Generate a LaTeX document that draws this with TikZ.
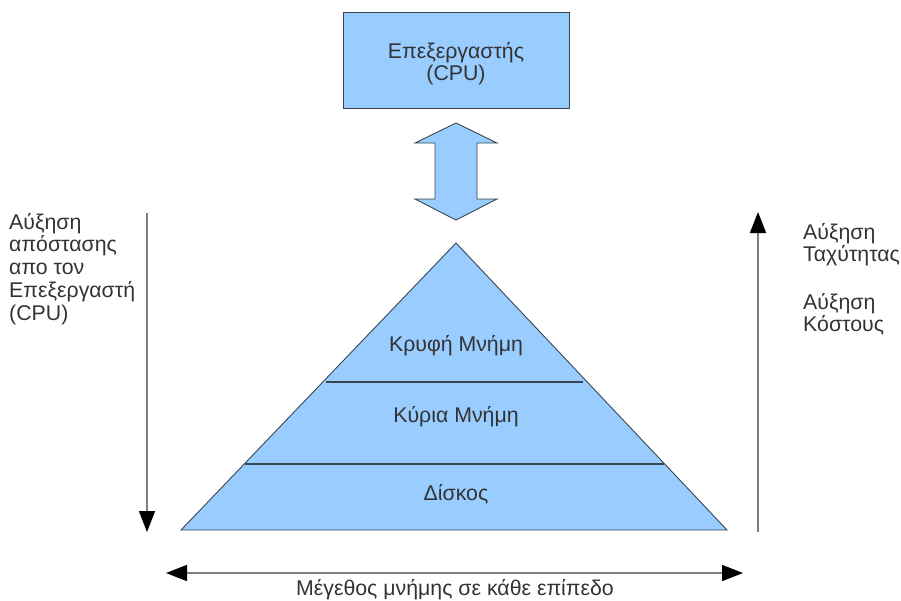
\documentclass[tikz,border=0pt]{standalone}
\usepackage{fontspec}
\setmainfont{Liberation Sans}
\usetikzlibrary{arrows.meta,calc}
\definecolor{boxfill}{HTML}{99CCFF}
\definecolor{edge}{HTML}{3A4650}
\definecolor{txt}{HTML}{333333}
\definecolor{axis}{HTML}{7F7F7F}
\begin{document}
\begin{tikzpicture}[x=1pt,y=-1pt,
  every node/.style={text=txt,font=\fontsize{21.3}{22.75}\selectfont,inner sep=0pt},
  shapefill/.style={fill=boxfill,draw=edge,line width=0.9pt},
  axisarrow/.style={draw=axis,line width=1.6pt,-{Triangle[length=21pt,width=16pt,fill=black,color=black]}},
  axisboth/.style={draw=axis,line width=1.6pt,{Triangle[length=21pt,width=16pt,fill=black,color=black]}-{Triangle[length=21pt,width=16pt,fill=black,color=black]}},
  layerline/.style={draw=edge,line width=1.4pt}]
\useasboundingbox (0,0) rectangle (901,600);

% processor box (multi-line nodes sit on the baseline of their last line)
\draw[shapefill] (343,12) rectangle (569,108);
\node[anchor=base,align=center,font=\fontsize{21.3}{22}\selectfont] (cpu) at (456,80)
  {Επεξεργαστής\\(CPU)};

% two-way transfer arrow between processor and memory
\draw[shapefill] (456,123) -- (497,143) -- (477,143) -- (477,199) -- (497,199)
  -- (456,220) -- (415,199) -- (435,199) -- (435,143) -- (415,143) -- cycle;

% memory pyramid
\coordinate (apex) at (456,243);
\coordinate (bl) at (181,530);
\coordinate (br) at (727,530);
\draw[shapefill] (apex) -- (br) -- (bl) -- cycle;
\coordinate (l1a) at ($(apex)!0.4843!(bl)$);
\coordinate (l1b) at ($(apex)!0.4843!(br)$);
\coordinate (l2a) at ($(apex)!0.7700!(bl)$);
\coordinate (l2b) at ($(apex)!0.7700!(br)$);
\draw[layerline] ([xshift=3pt]l1a) -- ([xshift=-4pt]l1b);
\draw[layerline] ([xshift=1pt]l2a) -- ([xshift=-1pt]l2b);

\node[anchor=base] (cache) at (456,351) {Κρυφή Μνήμη};
\node[anchor=base] (main) at (456,422) {Κύρια Μνήμη};
\node[anchor=base] (disk) at (456,500) {Δίσκος};

% distance axis on the left
\coordinate (ltop) at (147,213);
\coordinate (lbot) at (147,532);
\draw[axisarrow] (ltop) -- (lbot);
\node[anchor=base west,align=left] (dist) at (9,320)
  {Αύξηση\\απόστασης\\απο τον\\Επεξεργαστή\\(CPU)};

% speed and cost axis on the right
\coordinate (rbot) at (758,532);
\coordinate (rtop) at (758,212);
\draw[axisarrow] (rbot) -- (rtop);
\node[anchor=base west,align=left,font=\fontsize{21.3}{21.5}\selectfont] (speed)
  at (803,261) {Αύξηση\\Ταχύτητας};
\node[anchor=base west,align=left,font=\fontsize{21.3}{21.5}\selectfont] (cost)
  at (803,331) {Αύξηση\\Κόστους};

% size axis at the bottom
\coordinate (sl) at (166,573);
\coordinate (sr) at (743,573);
\draw[axisboth] (sl) -- (sr);
\node[anchor=base] (size) at (455,595) {Μέγεθος μνήμης σε κάθε επίπεδο};
\end{tikzpicture}
\end{document}
